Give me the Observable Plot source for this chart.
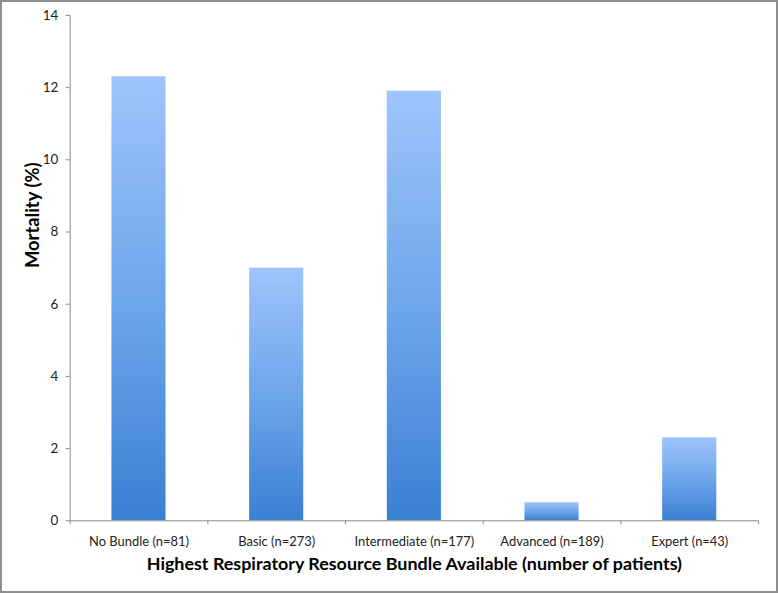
<!DOCTYPE html>
<html>
<head>
<meta charset="utf-8">
<script src="https://cdn.jsdelivr.net/npm/d3@7"></script>
<script src="https://cdn.jsdelivr.net/npm/@observablehq/plot@0.6"></script>
<style>
  html, body { margin: 0; padding: 0; background: #fff; }
  #frame { width: 778px; height: 593px; box-sizing: border-box; border: 2px solid #8e8e8e; position: relative; overflow: hidden; }
  #chart svg { position: absolute; left: -2px; top: -2px; }
</style>
</head>
<body>
<div id="frame"><div id="chart"></div></div>
<script>
const categories = ["No Bundle (n=81)", "Basic (n=273)", "Intermediate (n=177)", "Advanced (n=189)", "Expert (n=43)"];
const mortality = [12.3, 7.0, 11.9, 0.5, 2.3];
const yTicks = [0, 2, 4, 6, 8, 10, 12, 14];

const data = categories.map((c, i) => ({ category: c, index: i, value: mortality[i] }));
const boundaries = d3.range(categories.length + 1);
const centers = categories.map((_, i) => i + 0.5);

const font = "Lato, 'Open Sans', sans-serif";

const chart = Plot.plot({
  width: 778,
  height: 593,
  marginLeft: 70,
  marginRight: 16,
  marginTop: 15,
  marginBottom: 70,
  style: { fontFamily: font, background: "transparent", overflow: "visible" },
  x: { domain: [0, categories.length], axis: null },
  y: { domain: [0, 14], axis: null },
  marks: [
    Plot.rectY(data, {
      x1: "index",
      x2: d => d.index + 1,
      y: "value",
      insetLeft: 42,
      insetRight: 42,
      fill: "url(#barGrad)"
    }),
    Plot.axisY({
      ticks: yTicks,
      tickSize: 4,
      tickPadding: 8,
      stroke: "#8a8a8a",
      fill: "#222",
      fontSize: 13.5,
      label: null
    }),
    Plot.ruleX([0], { stroke: "#8a8a8a" }),
    Plot.ruleY([0], { stroke: "#8a8a8a" }),
    Plot.axisX({
      ticks: boundaries,
      tickSize: 4,
      tickFormat: () => "",
      stroke: "#8a8a8a",
      label: null
    }),
    Plot.axisX({
      ticks: centers,
      tickSize: 0,
      tickPadding: 16,
      tickFormat: (d) => categories[Math.round(d - 0.5)],
      fill: "#222",
      fontSize: 13,
      label: null
    }),
    Plot.text(["Highest Respiratory Resource Bundle Available (number of patients)"], {
      x: categories.length / 2,
      frameAnchor: "bottom",
      dy: 44,
      text: d => d,
      fontSize: 18,
      fontWeight: "bold",
      fill: "#000",
      lineAnchor: "middle"
    }),
    Plot.text(["Mortality (%)"], {
      frameAnchor: "left",
      dx: -37,
      rotate: -90,
      text: d => d,
      fontSize: 18.5,
      fontWeight: "bold",
      fill: "#000"
    })
  ]
});

const svg = d3.select(chart);
const defs = svg.insert("defs", ":first-child");
const grad = defs.append("linearGradient")
  .attr("id", "barGrad")
  .attr("x1", 0).attr("y1", 0).attr("x2", 0).attr("y2", 1);
grad.append("stop").attr("offset", "0%").attr("stop-color", "#9ec4fc");
grad.append("stop").attr("offset", "50%").attr("stop-color", "#6ea6ea");
grad.append("stop").attr("offset", "100%").attr("stop-color", "#3a80d3");

document.getElementById("chart").append(chart);
</script>
</body>
</html>
